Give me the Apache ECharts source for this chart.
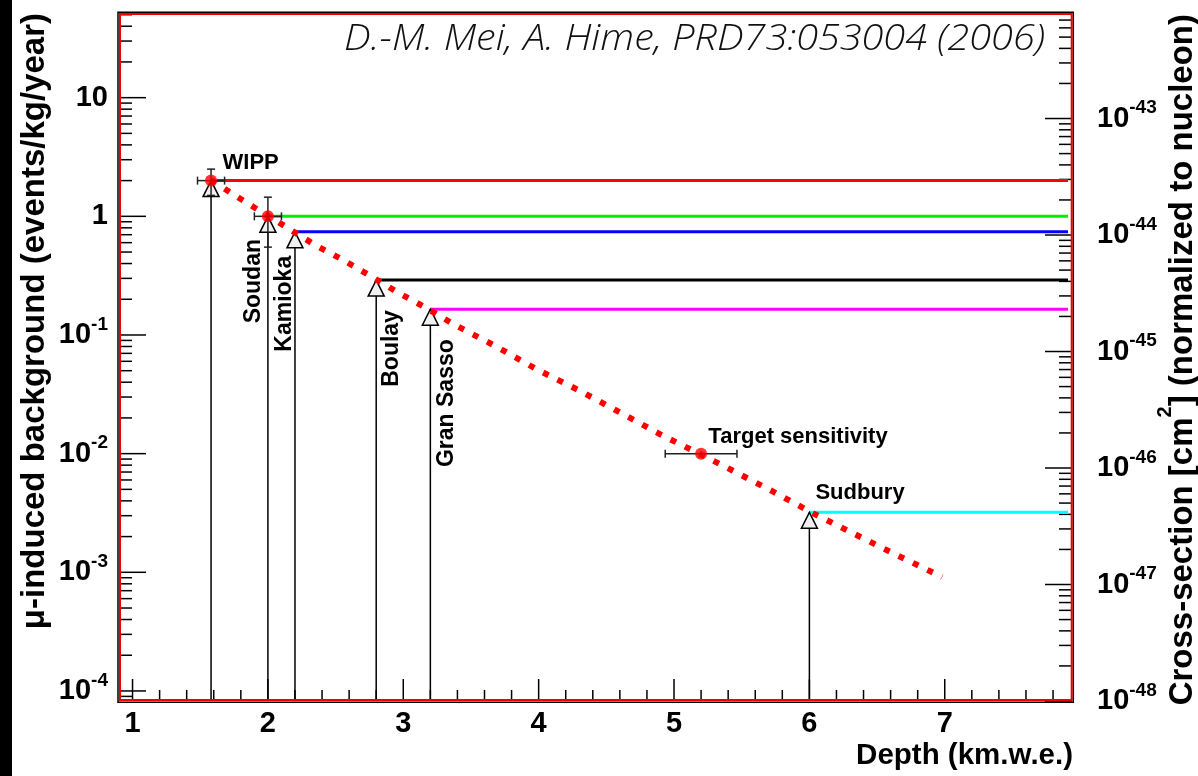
<!DOCTYPE html>
<html><head><meta charset="utf-8">
<script src="https://cdn.jsdelivr.net/npm/echarts@6/dist/echarts.min.js"></script>
<style>html,body{margin:0;padding:0;background:#fff;} #chart{width:1198px;height:776px;}</style>
</head><body><div id="chart"></div>
<script>
// ---------------- data ----------------
const labNames = ['WIPP', 'Soudan', 'Kamioka', 'Boulay', 'Gran Sasso', 'Sudbury'];
const labDepth = [1.58, 2.0, 2.2, 2.8, 3.2, 6.0];              // km.w.e.
const labBackground = [2.0, 1.0, 0.74, 0.29, 0.165, 0.0032];     // events/kg/year
const labColors = ['#ff0000', '#00ee00', '#0000ff', '#000000', '#ff00ff', '#00ffff'];

const measDepth = [1.58, 2.0, 5.2];
const measBackground = [2.0, 1.0, 0.01];
const measDepthErr = [0.1, 0.1, 0.265];
const measBackgroundErr = [0.5, 0.45, 0];

const curveDepth = [1.58, 1.843, 2.151, 2.348, 2.557, 2.767, 2.963, 3.173, 3.369, 3.690, 3.985, 4.292, 4.600, 4.908, 5.191, 5.425, 5.733, 6.028, 6.349, 6.644, 6.951, 6.98];
const curveBackground = [2.02, 1.30, 0.792, 0.573, 0.428, 0.310, 0.227, 0.168, 0.1237, 0.0796, 0.0514, 0.0344, 0.0223, 0.01435, 0.00993, 0.00728, 0.00478, 0.00314, 0.00206, 0.00140, 0.000948, 0.00091];

// text labels (anchor positions in data units)
const hLabelNames = ['WIPP', 'Target sensitivity', 'Sudbury'];
const hLabelDepth = [1.661, 5.25, 6.041];
const hLabelBackground = [2.81, 0.0138, 0.00466];
const vLabelNames = ['Soudan', 'Kamioka', 'Boulay', 'Gran Sasso'];
const vLabelDepth = [1.897, 2.126, 2.916, 3.323];
const vLabelBackground = [0.1254, 0.0723, 0.0366, 0.00771];

// axes
const xRange = [0.9, 7.94];
const yRange = [8.23e-5, 51.7];
const sigmaExpOffset = -48;            // right axis values are in units of 1e-48 cm^2
const sigmaRange = [1, 8.05e5];
const xMajorTicks = [1, 2, 3, 4, 5, 6, 7];
const xMinorStep = 0.2;
const logMantissas = [2, 3, 4, 5, 6, 7, 8, 9];
const leftDecades = [-5, -4, -3, -2, -1, 0, 1];
const rightDecades = [0, 1, 2, 3, 4, 5];

// ---------------- layout ----------------
const GRID = { left: 119, top: 13, width: 953, height: 688 };
const FONT = "'Liberation Sans', Arial, Helvetica, sans-serif";

// tick lists
const xTickData = [];
xMajorTicks.forEach(v => {
  xTickData.push([v, 22]);
  for (let k = 1; k < 5; k++) {
    const m = +(v + k * xMinorStep).toFixed(3);
    if (m > xRange[0] && m < xRange[1]) xTickData.push([m, 11]);
  }
});
function logTicks(decades, range) {
  const out = [];
  decades.forEach(d => {
    const p = Math.pow(10, d);
    if (p >= range[0] && p <= range[1]) out.push([p, 27]);
    logMantissas.forEach(m => {
      const v = m * p;
      if (v > range[0] && v < range[1]) out.push([v, 13]);
    });
  });
  return out;
}
const leftTickData = logTicks(leftDecades, yRange);
const rightTickData = logTicks(rightDecades, sigmaRange);

const tickStyle = { stroke: '#000', lineWidth: 1.5 };

const labelRich = {
  b: { fontSize: 29, fontWeight: 'bold', fontFamily: FONT, color: '#000', lineHeight: 40, verticalAlign: 'middle' },
  s: { fontSize: 19, fontWeight: 'bold', fontFamily: FONT, color: '#000', lineHeight: 19, verticalAlign: 'top' }
};
function powLabel(e) {
  if (e === 0) return '{b|1}';
  if (e === 1) return '{b|10}';
  return '{b|10}{s|' + e + '}';
}
function logExp(v) {
  const e = Math.log10(v);
  if (Math.abs(e - Math.round(e)) > 1e-6) return null;
  return Math.round(e);
}

const chart = echarts.init(document.getElementById('chart'), null, { renderer: 'canvas' });

const textLabel = { color: '#000', fontWeight: 'bold', fontFamily: FONT, textBorderWidth: 0, textBorderColor: 'transparent', opacity: 1, formatter: '{b}', show: true };

const option = {
  animation: false,
  backgroundColor: '#ffffff',
  grid: { left: GRID.left, top: GRID.top, width: GRID.width, height: GRID.height, show: false },
  xAxis: [{
    type: 'value', min: xRange[0], max: xRange[1], splitNumber: 7,
    axisLine: { show: false }, axisTick: { show: false }, splitLine: { show: false },
    axisLabel: {
      margin: 8, color: '#000', fontSize: 29, fontWeight: 'bold', fontFamily: FONT,
      showMinLabel: false, showMaxLabel: false,
      formatter: v => (Math.abs(v - Math.round(v)) < 1e-9 && xMajorTicks.indexOf(Math.round(v)) >= 0) ? String(Math.round(v)) : ''
    }
  }],
  yAxis: [{
    type: 'log', logBase: 10, min: yRange[0], max: yRange[1], position: 'left',
    axisLine: { show: false }, axisTick: { show: false }, splitLine: { show: false },
    axisLabel: {
      margin: 11, showMinLabel: false, showMaxLabel: false, rich: labelRich,
      formatter: v => { const e = logExp(v); return e === null ? '' : powLabel(e); }
    }
  }, {
    type: 'log', logBase: 10, min: sigmaRange[0], max: sigmaRange[1], position: 'right',
    axisLine: { show: false }, axisTick: { show: false }, splitLine: { show: false },
    axisLabel: {
      margin: 25, showMaxLabel: false, rich: labelRich,
      formatter: v => { const e = logExp(v); return e === null ? '' : powLabel(e + sigmaExpOffset); }
    }
  }],
  series: [
    // ticks on bottom axis
    {
      type: 'custom', name: 'xticks', xAxisIndex: 0, yAxisIndex: 0, silent: true, z: 1,
      data: xTickData,
      renderItem: (params, api) => {
        const p = api.coord([api.value(0), yRange[0]]);
        return { type: 'line', shape: { x1: p[0], y1: p[1], x2: p[0], y2: p[1] - api.value(1) }, style: tickStyle };
      }
    },
    // ticks on left axis
    {
      type: 'custom', name: 'lticks', xAxisIndex: 0, yAxisIndex: 0, silent: true, z: 1,
      data: leftTickData.map(d => [xRange[0], d[0], d[1]]),
      renderItem: (params, api) => {
        const p = api.coord([xRange[0], api.value(1)]);
        return { type: 'line', shape: { x1: p[0], y1: p[1], x2: p[0] + api.value(2), y2: p[1] }, style: tickStyle };
      }
    },
    // ticks on right axis
    {
      type: 'custom', name: 'rticks', xAxisIndex: 0, yAxisIndex: 1, silent: true, z: 1,
      data: rightTickData.map(d => [xRange[1], d[0], d[1]]),
      renderItem: (params, api) => {
        const p = api.coord([xRange[1], api.value(1)]);
        return { type: 'line', shape: { x1: p[0], y1: p[1], x2: p[0] - api.value(2), y2: p[1] }, style: tickStyle };
      }
    },
    // lab vertical arrows + horizontal coloured lines
    {
      type: 'custom', name: 'labs', xAxisIndex: 0, yAxisIndex: 0, silent: true, z: 2,
      data: labDepth.map((d, i) => [d, labBackground[i]]),
      renderItem: (params, api) => {
        const x = api.value(0), y = api.value(1);
        const top = api.coord([x, y]);
        const bot = api.coord([x, yRange[0]]);
        const right = api.coord([xRange[1], y]);
        return {
          type: 'group', children: [
            { type: 'line', shape: { x1: top[0], y1: top[1], x2: right[0] - 4, y2: right[1] }, style: { stroke: labColors[params.dataIndex], lineWidth: 3 } },
            { type: 'line', shape: { x1: bot[0], y1: bot[1], x2: top[0], y2: top[1] }, style: { stroke: '#000', lineWidth: 1.5 } }
          ]
        };
      }
    },
    // arrow heads
    {
      type: 'scatter', name: 'heads', z: 3, silent: true,
      data: labDepth.map((d, i) => [d, labBackground[i]]),
      symbol: 'triangle', symbolSize: [16, 16], symbolOffset: [0, 8],
      itemStyle: { color: '#f0f0f0', borderColor: '#000', borderWidth: 1.5, opacity: 1 }
    },
    // fit curve
    {
      type: 'line', name: 'fit', z: 4, silent: true, showSymbol: false, symbol: 'none',
      data: curveDepth.map((d, i) => [d, curveBackground[i]]),
      lineStyle: { color: '#ff0000', width: 6, type: [6, 10], cap: 'butt' }
    },
    // error bars
    {
      type: 'custom', name: 'errors', z: 5, silent: true,
      data: measDepth.map((d, i) => [d, measBackground[i], measDepthErr[i], measBackgroundErr[i]]),
      renderItem: (params, api) => {
        const x = api.value(0), y = api.value(1), xe = api.value(2), ye = api.value(3);
        const st = { stroke: '#222', lineWidth: 1.5 };
        const l = api.coord([x - xe, y]), r = api.coord([x + xe, y]);
        const ch = [
          { type: 'line', shape: { x1: l[0], y1: l[1], x2: r[0], y2: r[1] }, style: st },
          { type: 'line', shape: { x1: l[0], y1: l[1] - 4, x2: l[0], y2: l[1] + 4 }, style: st },
          { type: 'line', shape: { x1: r[0], y1: r[1] - 4, x2: r[0], y2: r[1] + 4 }, style: st }
        ];
        if (ye > 0) {
          const t = api.coord([x, y + ye]), b = api.coord([x, y - ye]);
          ch.push({ type: 'line', shape: { x1: t[0], y1: t[1], x2: b[0], y2: b[1] }, style: st });
          ch.push({ type: 'line', shape: { x1: t[0] - 4, y1: t[1], x2: t[0] + 4, y2: t[1] }, style: st });
          ch.push({ type: 'line', shape: { x1: b[0] - 4, y1: b[1], x2: b[0] + 4, y2: b[1] }, style: st });
        }
        return { type: 'group', children: ch };
      }
    },
    // measured points
    {
      type: 'scatter', name: 'points', z: 6, silent: true,
      data: measDepth.map((d, i) => [d, measBackground[i]]),
      symbol: 'circle', symbolSize: 12, itemStyle: { color: '#ff0000' }
    },
    // horizontal text labels
    {
      type: 'scatter', name: 'hlabels', z: 7, silent: true, symbolSize: 1,
      itemStyle: { color: 'rgba(255,255,255,0)' },
      data: hLabelNames.map((n, i) => ({ name: n, value: [hLabelDepth[i], hLabelBackground[i]] })),
      label: Object.assign({}, textLabel, { position: 'right', distance: 0, fontSize: 22 })
    },
    // vertical text labels
    {
      type: 'scatter', name: 'vlabels', z: 7, silent: true, symbolSize: 1,
      itemStyle: { color: 'rgba(255,255,255,0)' },
      data: vLabelNames.map((n, i) => ({ name: n, value: [vLabelDepth[i], vLabelBackground[i]] })),
      label: Object.assign({}, textLabel, { position: 'inside', rotate: 90, align: 'left', verticalAlign: 'middle', fontSize: 23 })
    }
  ],
  graphic: [
    { type: 'rect', z: 100, silent: true, shape: { x: 0, y: 0, width: 12, height: 776 }, style: { fill: '#000' } },
    { type: 'rect', z: 100, silent: true, shape: { x: GRID.left - 1, y: GRID.top - 0.7, width: GRID.width + 2.3, height: GRID.height + 2 }, style: { fill: null, stroke: '#000', lineWidth: 1.5 } },
    { type: 'rect', z: 101, silent: true, shape: { x: GRID.left + 1, y: GRID.top + 1, width: GRID.width - 1.3, height: GRID.height - 2 }, style: { fill: null, stroke: '#ee0000', lineWidth: 2 } },
    {
      type: 'text', z: 100, silent: true, x: 35, y: 13, rotation: Math.PI / 2,
      style: { text: 'μ-induced background (events/kg/year)', fill: '#000', font: 'bold 33px ' + FONT, align: 'right', verticalAlign: 'middle' }
    },
    {
      type: 'text', z: 100, silent: true, x: 1177, y: 14, rotation: Math.PI / 2,
      style: {
        text: '{b|Cross-section [cm}{s|2}{b|] (normalized to nucleon)}', align: 'right', verticalAlign: 'middle',
        rich: {
          b: { fontSize: 33, fontWeight: 'bold', fontFamily: FONT, fill: '#000', lineHeight: 44, verticalAlign: 'bottom' },
          s: { fontSize: 20, fontWeight: 'bold', fontFamily: FONT, fill: '#000', lineHeight: 20, verticalAlign: 'top' }
        }
      }
    },
    {
      type: 'text', z: 100, silent: true, x: 1073, y: 756,
      style: { text: 'Depth (km.w.e.)', fill: '#000', font: 'bold 29.5px ' + FONT, align: 'right', verticalAlign: 'middle' }
    },
    {
      type: 'text', z: 100, silent: true, x: 1045, y: 40, scaleX: 1.1,
      style: { text: 'D.-M. Mei, A. Hime, PRD73:053004 (2006)', fill: '#111', font: 'italic 300 36px "Open Sans", "DejaVu Sans", sans-serif', align: 'right', verticalAlign: 'middle' }
    }
  ]
};
chart.setOption(option);
</script>
</body></html>
